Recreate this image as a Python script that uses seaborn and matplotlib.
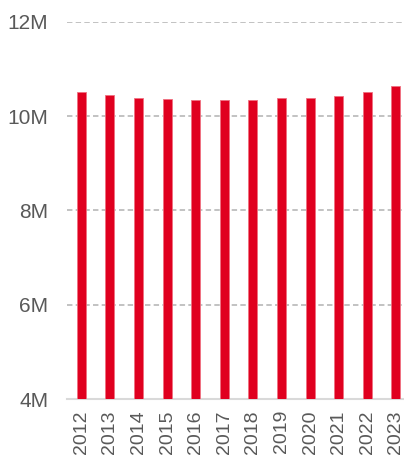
import pandas as pd
import seaborn as sns
import matplotlib.pyplot as plt
from matplotlib.ticker import FuncFormatter

# values (millions)
years = ['2012', '2013', '2014', '2015', '2016', '2017',
         '2018', '2019', '2020', '2021', '2022', '2023']
values = [10.51, 10.45, 10.39, 10.37, 10.35, 10.34,
          10.34, 10.38, 10.39, 10.42, 10.52, 10.64]
yticks = [4, 6, 8, 10, 12]


def main():
    df = pd.DataFrame({'year': years, 'value': values})

    sns.set_theme(style='white')
    plt.rcParams['font.family'] = ['Liberation Sans', 'DejaVu Sans']

    fig = plt.figure(figsize=(4.04, 4.59), dpi=100)
    ax = fig.add_axes([0.166, 0.1307, 0.849, 0.822])

    sns.barplot(data=df, x='year', y='value', color='#e0001f', width=0.315,
                saturation=1, edgecolor='#f07080', linewidth=0.6, ax=ax, zorder=3)

    ax.set_ylim(4, 12)
    ax.set_xlim(-0.5, 11.5)
    ax.set_yticks(yticks)
    ax.yaxis.set_major_formatter(FuncFormatter(lambda v, p: f'{int(v)}M'))
    ax.grid(axis='y', color='#bdbdbd', linestyle=(0, (3, 1.8)), linewidth=1.3, zorder=0)
    ax.set_axisbelow(True)

    for s in ['top', 'right', 'left']:
        ax.spines[s].set_visible(False)
    ax.spines['bottom'].set_color('#d9d9d9')
    ax.spines['bottom'].set_linewidth(1.5)

    ax.set_xlabel('')
    ax.set_ylabel('')
    ax.tick_params(axis='y', length=0, pad=13.5, labelsize=15, labelcolor='#595959')
    ax.tick_params(axis='x', length=0, pad=8, labelsize=14, labelcolor='#595959',
                   labelrotation=90)

    fig.savefig('out.png', dpi=100)


if __name__ == '__main__':
    main()
